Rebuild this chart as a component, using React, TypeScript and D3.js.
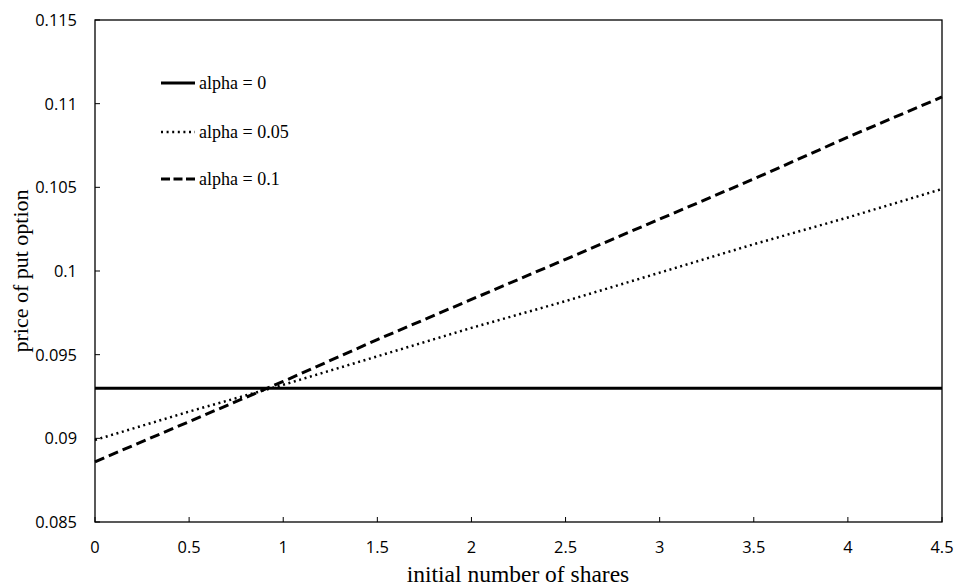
import React from "react";
import * as d3 from "d3";

const shares = [0, 0.5, 1, 1.5, 2, 2.5, 3, 3.5, 4, 4.5];
const alpha0 = [0.093, 0.093, 0.093, 0.093, 0.093, 0.093, 0.093, 0.093, 0.093, 0.093];
const alpha005 = [0.0899, 0.0916, 0.0932, 0.0949, 0.0966, 0.0982, 0.0999, 0.1016, 0.1032, 0.1049];
const alpha01 = [0.0886, 0.0910, 0.0934, 0.0959, 0.0983, 0.1007, 0.1031, 0.1055, 0.1080, 0.1104];
const xTicks = [0, 0.5, 1, 1.5, 2, 2.5, 3, 3.5, 4, 4.5];
const yTicks = [0.085, 0.09, 0.095, 0.1, 0.105, 0.11, 0.115];
const seriesNames = ["alpha = 0", "alpha = 0.05", "alpha = 0.1"];

export default function App() {
  const W = 955, H = 587;
  const left = 95, right = 942, top = 20, bottom = 522;
  const x = d3.scaleLinear().domain([0, 4.5]).range([left, right]);
  const y = d3.scaleLinear().domain([0.085, 0.115]).range([bottom, top]);
  const line = d3.line<number>().x((_, i) => x(shares[i])).y((d) => y(d));
  const styles = [
    { width: 3, dash: "none", legendDash: "none" },
    { width: 2.5, dash: "2,3.6", legendDash: "2,3.6" },
    { width: 3, dash: "10,5", legendDash: "9,3.5" },
  ];
  const data = [alpha0, alpha005, alpha01];
  const legendY = [83, 132, 179];
  const tickFont = "'Open Sans', 'Liberation Sans', sans-serif";
  const serif = "'Liberation Serif', 'Times New Roman', serif";
  return (
    <svg width={W} height={H} style={{ position: "absolute", left: 0, top: 0, background: "#fff" }}>
      <rect x={left} y={top} width={right - left} height={bottom - top} fill="none" stroke="#000" strokeWidth={1.3} />
      {xTicks.map((t) => (
        <g key={"x" + t}>
          <line x1={x(t)} x2={x(t)} y1={bottom} y2={bottom - 5} stroke="#000" strokeWidth={1} />
          <text x={x(t)} y={553} textAnchor="middle" fontFamily={tickFont} fontSize={16.4}>{t}</text>
        </g>
      ))}
      {yTicks.map((t) => (
        <g key={"y" + t}>
          <line x1={left} x2={left + 5} y1={y(t)} y2={y(t)} stroke="#000" strokeWidth={1} />
          <text x={77} y={y(t) + 6} textAnchor="end" fontFamily={tickFont} fontSize={16.4}>{t}</text>
        </g>
      ))}
      {data.map((d, i) => (
        <path key={"s" + i} d={line(d) || ""} fill="none" stroke="#000" strokeWidth={styles[i].width} strokeDasharray={styles[i].dash} />
      ))}
      {seriesNames.map((n, i) => (
        <g key={"l" + i}>
          <line x1={161} x2={195} y1={legendY[i]} y2={legendY[i]} stroke="#000" strokeWidth={styles[i].width} strokeDasharray={styles[i].legendDash} />
          <text x={199} y={legendY[i] + 5.5} fontFamily={serif} fontSize={18}>{n}</text>
        </g>
      ))}
      <text x={518} y={582} textAnchor="middle" fontFamily={serif} fontSize={23.5}>initial number of shares</text>
      <text transform={`translate(28, 271) rotate(-90)`} textAnchor="middle" fontFamily={serif} fontSize={22}>price of put option</text>
    </svg>
  );
}
